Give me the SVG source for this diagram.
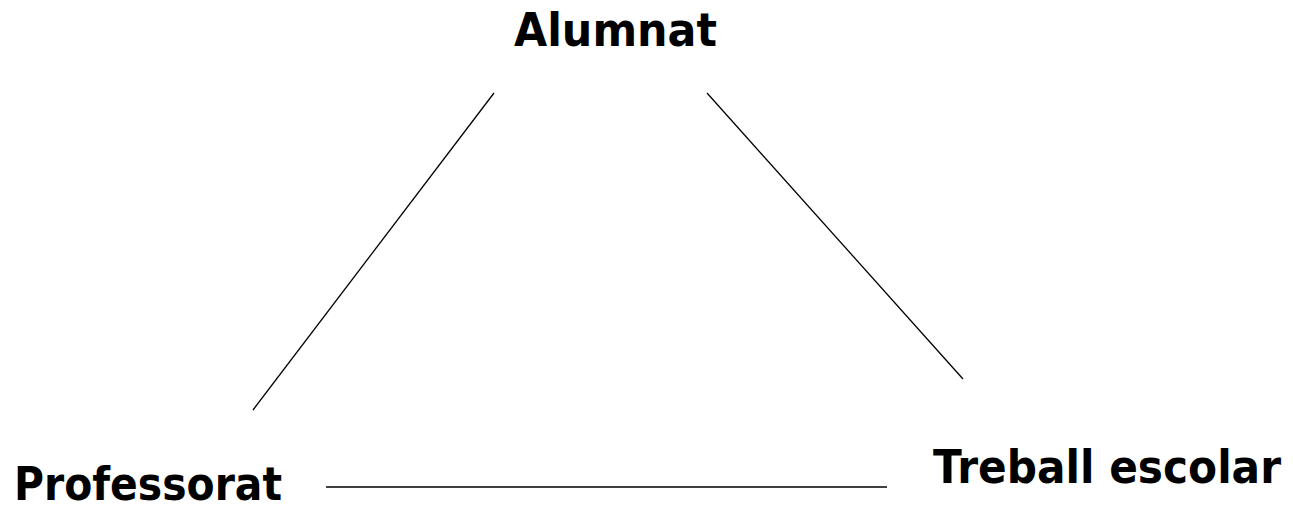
<svg xmlns="http://www.w3.org/2000/svg" width="1293" height="505" viewBox="0 0 1293 505">
<style>
.lbl{font-family:"DejaVu Sans","Verdana",sans-serif;font-weight:bold;fill:#000;font-size:46px}
.conn line{stroke:#000;stroke-width:1.3;fill:none}
</style>
<rect width="1293" height="505" fill="#fff"/>
<g class="conn" id="connectors">
<line x1="494" y1="93" x2="253" y2="410"/>
<line x1="707" y1="93" x2="963" y2="379"/>
<line x1="326" y1="487" x2="887" y2="487"/>
</g>
<g id="alumnat"><text class="lbl" x="514" y="46" textLength="203" lengthAdjust="spacingAndGlyphs">Alumnat</text></g>
<g id="professorat"><text class="lbl" x="14" y="500" textLength="268" lengthAdjust="spacingAndGlyphs">Professorat</text></g>
<g id="treball"><text class="lbl" x="933" y="483" textLength="348" lengthAdjust="spacingAndGlyphs">Treball escolar</text></g>
</svg>
